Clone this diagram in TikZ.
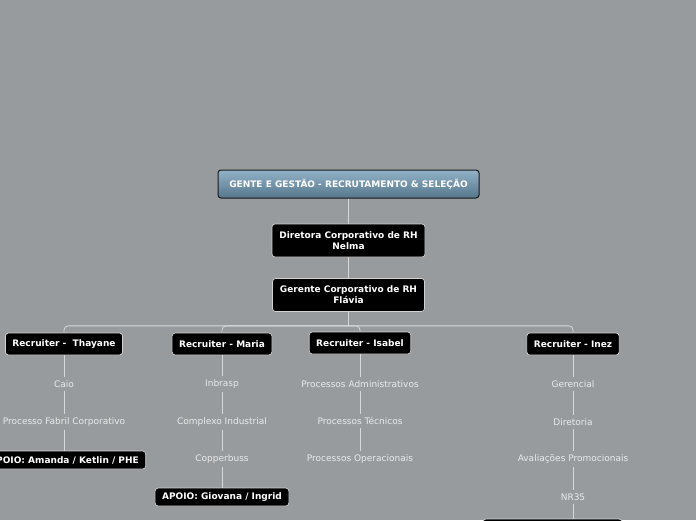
\documentclass[tikz,border=0pt]{standalone}
\usepackage{fontspec}
\setmainfont{DejaVu Sans}
\usetikzlibrary{positioning}
\definecolor{canvas}{RGB}{151,155,158}
\definecolor{linkgray}{RGB}{214,216,218}
\definecolor{topA}{RGB}{146,178,200}
\definecolor{topB}{RGB}{86,118,140}
\definecolor{boxline}{RGB}{210,210,210}
\definecolor{leaftext}{RGB}{234,234,234}

\begin{document}
\begin{tikzpicture}[
  x=1pt, y=-1pt, on grid, node distance=38pt,
  topic/.style={rectangle, draw=black!90, line width=1pt, rounded corners=3pt, top color=topA, bottom color=topB, text=white, font=\fontsize{9}{11}\selectfont\bfseries, minimum width=261pt, minimum height=28pt},
  person/.style={rectangle, draw=boxline, line width=0.7pt, rounded corners=3pt, fill=black, text=white, align=center, inner xsep=7pt, font=\fontsize{9}{11}\selectfont\bfseries},
  leaf/.style={font=\fontsize{9}{11}\selectfont, text=leaftext, inner sep=3pt},
  link/.style={draw=linkgray, line width=0.8pt}
]
  \useasboundingbox (0,0) rectangle (696,520);
  \fill[canvas] (0,0) rectangle (696,520);

  \node[topic] (root) at (348.5,184) {GENTE E GESTÃO - RECRUTAMENTO \& SELEÇÃO};
  \node[person, minimum width=153pt, minimum height=33pt, below=56.5pt of root] (diretora) {Diretora Corporativo de RH\\Nelma};
  \node[person, minimum width=152pt, minimum height=33pt, below=54.5pt of diretora] (gerente) {Gerente Corporativo de RH\\Flávia};

  \node[person, minimum height=22pt] (thayane) at (64,344) {Recruiter -~~Thayane};
  \node[person, minimum height=22pt] (maria)   at (222,344) {Recruiter - Maria};
  \node[person, minimum height=22pt] (isabel)  at (360,343) {Recruiter - Isabel};
  \node[person, minimum height=22pt] (inez)    at (573,344) {Recruiter - Inez};

  % Thayane
  \node[leaf, below=40pt of thayane] (caio) {Caio};
  \node[leaf, below=of caio] (fabril) {Processo Fabril Corporativo};
  \node[person, minimum height=18pt, below=38pt of fabril] (apoioa) {APOIO: Amanda / Ketlin / PHE};

  % Maria
  \node[leaf, below=40pt of maria] (inbrasp) {Inbrasp};
  \node[leaf, below=of inbrasp] (complexo) {Complexo Industrial};
  \node[leaf, below=37pt of complexo] (copper) {Copperbuss};
  \node[person, minimum height=18pt, below=38pt of copper] (apoiob) {APOIO: Giovana / Ingrid};

  % Isabel
  \node[leaf, below=41pt of isabel] (padm) {Processos Administrativos};
  \node[leaf, below=37pt of padm] (ptec) {Processos Técnicos};
  \node[leaf, below=38pt of ptec] (poper) {Processos Operacionais};

  % Inez
  \node[leaf, below=40pt of inez] (gerencial) {Gerencial};
  \node[leaf, below=of gerencial] (diretoria) {Diretoria};
  \node[leaf, below=37pt of diretoria] (avaliacoes) {Avaliações Promocionais};
  \node[leaf, below=of avaliacoes] (nr) {NR35};
  \node[person, minimum width=139pt, minimum height=20pt] (nextbox) at (552.5,529) {};

  \draw[link] (root) -- (diretora);
  \draw[link] (diretora) -- (gerente);
  \coordinate (bus) at ([yshift=-14pt]gerente.south);
  \draw[link] (gerente) -- (bus);
  \foreach \r in {thayane, maria, isabel, inez}
    \draw[link, rounded corners=4pt] (bus) -| (\r.north);

  \draw[link] (thayane) -- (caio) -- (fabril) -- (apoioa);
  \draw[link] (maria) -- (inbrasp) -- (complexo) -- (copper) -- (apoiob);
  \draw[link] (isabel) -- (padm) -- (ptec) -- (poper);
  \draw[link] (inez) -- (gerencial) -- (diretoria) -- (avaliacoes) -- (nr) -- (nr |- nextbox.north);
\end{tikzpicture}
\end{document}
